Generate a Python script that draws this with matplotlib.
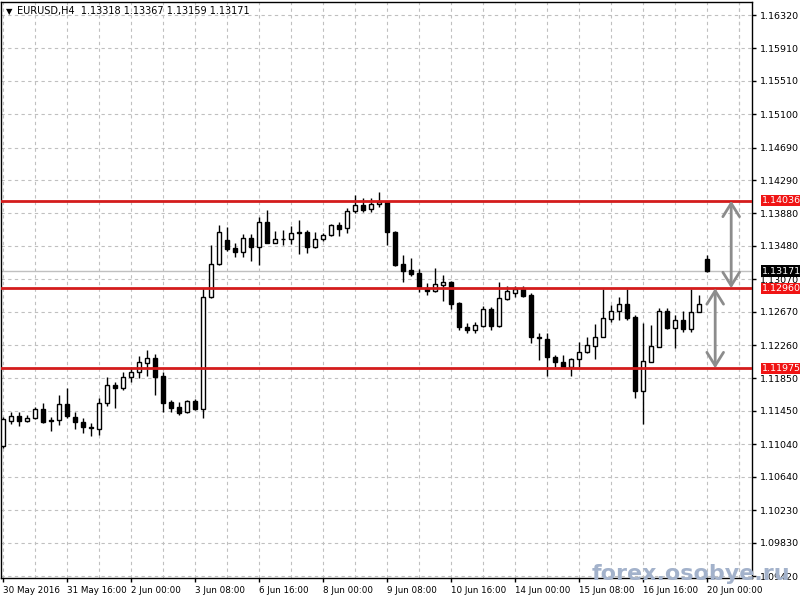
import numpy as np
import matplotlib
matplotlib.use('Agg')
import matplotlib.pyplot as plt
from matplotlib.patches import Rectangle

# EURUSD H4, 30 May 2016 08:00 .. 20 Jun 2016 00:00
opens = [1.11019, 1.11327, 1.11388, 1.11327, 1.11364, 1.11474, 1.11345, 1.11339, 1.11536, 1.11376,
         1.11314, 1.11259, 1.11228, 1.11548, 1.11770, 1.11733, 1.11868, 1.11929, 1.12041, 1.12102,
         1.11880, 1.11560, 1.11499, 1.11437, 1.11573, 1.11474, 1.12852, 1.13258, 1.13553, 1.13455,
         1.13405, 1.13578, 1.13467, 1.13774, 1.13516, 1.13565, 1.13565, 1.13651, 1.13651, 1.13467,
         1.13565, 1.13615, 1.13738, 1.13701, 1.13910, 1.13984, 1.13934, 1.13996, 1.14020, 1.13651,
         1.13258, 1.13184, 1.13147, 1.12963, 1.12926, 1.13000, 1.13036, 1.12778, 1.12483, 1.12446,
         1.12495, 1.12705, 1.12495, 1.12828, 1.12901, 1.12950, 1.12877, 1.12354, 1.12335, 1.12114,
         1.12053, 1.11991, 1.12090, 1.12176, 1.12249, 1.12360, 1.12582, 1.12680, 1.12766, 1.12606,
         1.11696, 1.12053, 1.12237, 1.12680, 1.12471, 1.12569, 1.12458, 1.12668, 1.13318]
highs = [1.11376, 1.11437, 1.11437, 1.11401, 1.11499, 1.11548, 1.11376, 1.11647, 1.11733, 1.11437,
         1.11364, 1.11302, 1.11610, 1.11868, 1.11807, 1.11929, 1.11991, 1.12127, 1.12200, 1.12151,
         1.11929, 1.11585, 1.11560, 1.11585, 1.11598, 1.12963, 1.13492, 1.13738, 1.13713, 1.13516,
         1.13627, 1.13627, 1.13836, 1.13922, 1.13664, 1.13676, 1.13725, 1.13799, 1.13676, 1.13651,
         1.13639, 1.13750, 1.13774, 1.13947, 1.14107, 1.14070, 1.14070, 1.14143, 1.14033, 1.13664,
         1.13369, 1.13332, 1.13196, 1.13024, 1.13209, 1.13123, 1.13049, 1.12791, 1.12532, 1.12545,
         1.12742, 1.12730, 1.13036, 1.12987, 1.12987, 1.12987, 1.12901, 1.12409, 1.12409, 1.12139,
         1.12139, 1.12102, 1.12299, 1.12360, 1.12520, 1.12950, 1.12754, 1.12852, 1.12950, 1.12631,
         1.12532, 1.12508, 1.12717, 1.12717, 1.12631, 1.12680, 1.12950, 1.12877, 1.13367]
lows = [1.10995, 1.11290, 1.11265, 1.11314, 1.11351, 1.11302, 1.11204, 1.11278, 1.11364, 1.11228,
        1.11179, 1.11142, 1.11155, 1.11511, 1.11487, 1.11708, 1.11807, 1.11856, 1.11880, 1.11647,
        1.11437, 1.11437, 1.11401, 1.11425, 1.11462, 1.11364, 1.12840, 1.13246, 1.13418, 1.13344,
        1.13344, 1.13295, 1.13246, 1.13516, 1.13516, 1.13492, 1.13504, 1.13381, 1.13393, 1.13455,
        1.13541, 1.13602, 1.13602, 1.13639, 1.13885, 1.13897, 1.13897, 1.13959, 1.13492, 1.13233,
        1.13036, 1.13110, 1.12913, 1.12877, 1.12913, 1.12803, 1.12705, 1.12446, 1.12409, 1.12409,
        1.12483, 1.12446, 1.12483, 1.12815, 1.12852, 1.12852, 1.12286, 1.12077, 1.11880, 1.11991,
        1.11979, 1.11880, 1.11991, 1.12164, 1.12090, 1.12360, 1.12545, 1.12569, 1.12569, 1.11610,
        1.11290, 1.12053, 1.12237, 1.12458, 1.12225, 1.12421, 1.12421, 1.12668, 1.13159]
closes = [1.11351, 1.11388, 1.11327, 1.11364, 1.11474, 1.11314, 1.11333, 1.11536, 1.11388, 1.11314,
          1.11253, 1.11241, 1.11548, 1.11770, 1.11733, 1.11868, 1.11929, 1.12053, 1.12102, 1.11868,
          1.11548, 1.11487, 1.11425, 1.11573, 1.11474, 1.12852, 1.13258, 1.13651, 1.13442, 1.13405,
          1.13578, 1.13467, 1.13774, 1.13516, 1.13565, 1.13565, 1.13639, 1.13633, 1.13467, 1.13565,
          1.13615, 1.13738, 1.13688, 1.13910, 1.13984, 1.13922, 1.13996, 1.14020, 1.13651, 1.13246,
          1.13172, 1.13135, 1.12975, 1.12926, 1.13012, 1.13036, 1.12766, 1.12483, 1.12446, 1.12508,
          1.12705, 1.12495, 1.12840, 1.12926, 1.12950, 1.12864, 1.12360, 1.12342, 1.12114, 1.12053,
          1.11991, 1.12090, 1.12176, 1.12262, 1.12360, 1.12594, 1.12680, 1.12766, 1.12594, 1.11696,
          1.12065, 1.12249, 1.12680, 1.12471, 1.12569, 1.12458, 1.12668, 1.12766, 1.13171]

levels = [1.14036, 1.12960, 1.11975]
bid = 1.13171

ytick_vals = [1.16320, 1.15910, 1.15510, 1.15100, 1.14690, 1.14290, 1.13880, 1.13480, 1.13070,
              1.12670, 1.12260, 1.11850, 1.11450, 1.11040, 1.10640, 1.10230, 1.09830, 1.09420]
xtick_labels = ['30 May 2016', '31 May 16:00', '2 Jun 00:00', '3 Jun 08:00', '6 Jun 16:00',
                '8 Jun 00:00', '9 Jun 08:00', '10 Jun 16:00', '14 Jun 00:00', '15 Jun 08:00',
                '16 Jun 16:00', '20 Jun 00:00']

plt.rcParams['font.family'] = ['DejaVu Sans']

fig = plt.figure(figsize=(8, 6), dpi=100)
ax = fig.add_axes([1 / 800, 22 / 600, 751 / 800, 576 / 600])
ax.set_xlim(-0.25, 93.6)
ax.set_ylim(1.09396, 1.16480)

# candles
for i in range(len(opens)):
    o, h, l, c = opens[i], highs[i], lows[i], closes[i]
    ax.vlines(i, l, h, color='black', lw=1, zorder=3)
    fc = 'white' if c >= o else 'black'
    ax.add_patch(Rectangle((i - 0.28, min(o, c)), 0.56, abs(c - o),
                           facecolor=fc, edgecolor='black', lw=1, zorder=3.5))

# horizontal levels
for lv in levels:
    ax.axhline(lv, color='#d41c1c', lw=2, zorder=4)
ax.axhline(bid, color='#c0c0c0', lw=1, zorder=1.5)

# distance arrows
arrow_style = '<->,head_length=0.8,head_width=0.5'
ax.annotate('', xy=(91.0, levels[0]), xytext=(91.0, levels[1]),
            arrowprops=dict(arrowstyle=arrow_style, color='#8c8c8c', lw=2,
                            shrinkA=0, shrinkB=0, mutation_scale=12), zorder=5)
ax.annotate('', xy=(89.0, levels[1]), xytext=(89.0, levels[2]),
            arrowprops=dict(arrowstyle=arrow_style, color='#8c8c8c', lw=2,
                            shrinkA=0, shrinkB=0, mutation_scale=12), zorder=5)

# axes / ticks
ax.yaxis.tick_right()
ax.set_yticks(ytick_vals)
ax.set_yticklabels([f'{v:.5f}' for v in ytick_vals])
xt = list(range(0, 89, 8))
ax.set_xticks(xt)
ax.set_xticklabels(xtick_labels, ha='left')
ax.set_xticks([v + 4 for v in xt] + [92], minor=True)
ax.tick_params(axis='y', which='major', labelsize=6.8, length=3, width=1, color='black', pad=3)
ax.tick_params(axis='x', which='major', labelsize=6.3, length=3, width=1, color='black', pad=3)
ax.tick_params(axis='x', which='minor', length=0)
ax.grid(True, which='both', axis='x', color='#c0c0c0', linestyle=(0, (3, 3)), lw=0.8, zorder=0)
ax.grid(True, which='major', axis='y', color='#c0c0c0', linestyle=(0, (3, 3)), lw=0.8, zorder=0)
ax.set_axisbelow(True)
for s in ax.spines.values():
    s.set_color('black')
    s.set_linewidth(1)

# price labels on the right
ytr = ax.get_yaxis_transform()
for lv in levels:
    ax.text(1.0135, lv, f'{lv:.5f}', transform=ytr, ha='left', va='center', fontsize=6.8,
            color='white', clip_on=False, zorder=6,
            bbox=dict(boxstyle='square,pad=0.12', fc='#f01414', ec='none'))
ax.text(1.0135, bid, f'{bid:.5f}', transform=ytr, ha='left', va='center', fontsize=6.8,
        color='white', clip_on=False, zorder=6,
        bbox=dict(boxstyle='square,pad=0.12', fc='black', ec='none'))

# header
ax.text(0.006, 0.984, '\u25bc', transform=ax.transAxes, ha='left', va='center', fontsize=6)
ax.text(0.0215, 0.984, f'EURUSD,H4  {opens[-1]:.5f} {highs[-1]:.5f} {lows[-1]:.5f} {closes[-1]:.5f}',
        transform=ax.transAxes, ha='left', va='center', fontsize=7)

# watermark
fig.text(0.9875, 0.033, 'forex.osobye.ru', ha='right', va='baseline', fontsize=16,
         fontweight='bold', color='#a3b2cb')

fig.savefig('out.png', dpi=100)
